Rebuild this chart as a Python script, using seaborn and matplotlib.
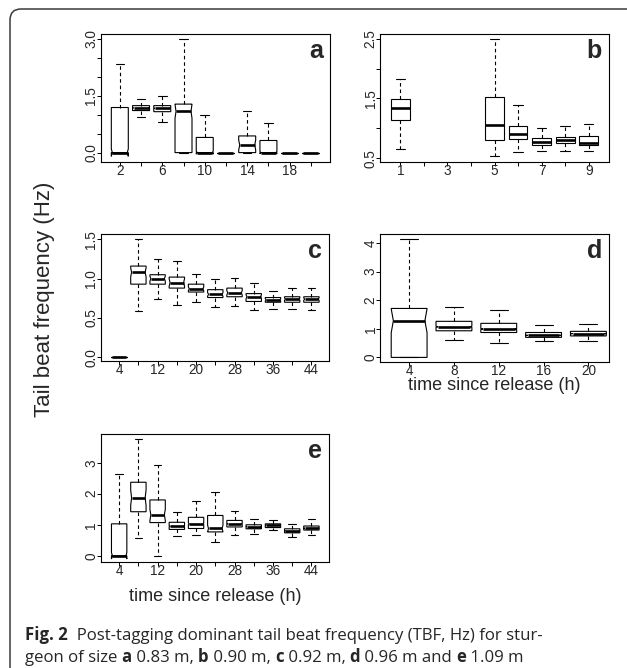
import numpy as np
import pandas as pd
import matplotlib
matplotlib.use("Agg")
import matplotlib.pyplot as plt
import seaborn as sns
from matplotlib.patches import FancyBboxPatch
from matplotlib.transforms import IdentityTransform
from matplotlib.path import Path
from matplotlib import font_manager as fm

# ---------------- data ----------------
# panel a (0.83 m)
a_times = [2, 4, 6, 8, 10, 12, 14, 16, 18, 20]
a_min = [0.00, 0.93, 0.81, 0.00, 0.00, 0.00, 0.00, 0.00, 0.00, 0.00]
a_q1 = [0.00, 1.11, 1.08, 0.00, 0.00, 0.00, 0.00, 0.00, 0.00, 0.00]
a_med = [0.00, 1.18, 1.17, 1.09, 0.00, 0.00, 0.20, 0.00, 0.00, 0.00]
a_q3 = [1.19, 1.24, 1.24, 1.28, 0.40, 0.00, 0.44, 0.32, 0.00, 0.00]
a_max = [2.34, 1.41, 1.50, 3.00, 0.99, 0.00, 1.09, 0.79, 0.00, 0.00]
a_n = [90, 100, 100, 30, 60, 10, 7, 60, 10, 10]

# panel b (0.90 m)
b_times = [1, 2, 3, 4, 5, 6, 7, 8, 9]
b_min = [0.65, np.nan, np.nan, np.nan, 0.54, 0.60, 0.62, 0.62, 0.62]
b_q1 = [1.14, np.nan, np.nan, np.nan, 0.81, 0.82, 0.72, 0.75, 0.72]
b_med = [1.34, np.nan, np.nan, np.nan, 1.05, 0.90, 0.77, 0.80, 0.76]
b_q3 = [1.49, np.nan, np.nan, np.nan, 1.53, 1.04, 0.84, 0.86, 0.87]
b_max = [1.83, np.nan, np.nan, np.nan, 2.50, 1.39, 1.01, 1.03, 1.07]
b_n = [200, 0, 0, 0, 200, 200, 200, 200, 200]

# panel c (0.92 m)
c_times = [4, 8, 12, 16, 20, 24, 28, 32, 36, 40, 44]
c_min = [0.00, 0.59, 0.74, 0.67, 0.70, 0.64, 0.65, 0.60, 0.62, 0.61, 0.60]
c_q1 = [0.00, 0.93, 0.93, 0.88, 0.83, 0.76, 0.77, 0.71, 0.70, 0.70, 0.70]
c_med = [0.00, 1.08, 1.00, 0.95, 0.87, 0.80, 0.82, 0.77, 0.73, 0.74, 0.74]
c_q3 = [0.00, 1.16, 1.05, 1.02, 0.93, 0.86, 0.88, 0.81, 0.76, 0.77, 0.77]
c_max = [0.00, 1.50, 1.25, 1.23, 1.06, 0.99, 1.01, 0.95, 0.84, 0.88, 0.88]
c_n = [10, 10, 8, 5, 10, 10, 10, 10, 10, 10, 10]

# panel d (0.96 m)
d_times = [4, 8, 12, 16, 20]
d_min = [0.00, 0.60, 0.52, 0.57, 0.56]
d_q1 = [0.00, 0.93, 0.87, 0.70, 0.75]
d_med = [1.28, 1.07, 0.99, 0.77, 0.83]
d_q3 = [1.71, 1.26, 1.19, 0.87, 0.91]
d_max = [4.13, 1.75, 1.67, 1.12, 1.15]
d_n = [10, 200, 200, 200, 200]

# panel e (1.09 m)
e_times = [4, 8, 12, 16, 20, 24, 28, 32, 36, 40, 44]
e_min = [0.00, 0.56, 0.00, 0.63, 0.66, 0.43, 0.68, 0.69, 0.83, 0.59, 0.66]
e_q1 = [0.00, 1.42, 1.07, 0.85, 0.88, 0.77, 0.93, 0.87, 0.91, 0.74, 0.83]
e_med = [0.00, 1.87, 1.32, 0.95, 1.03, 0.88, 1.03, 0.94, 0.98, 0.81, 0.89]
e_q3 = [1.03, 2.37, 1.80, 1.08, 1.24, 1.30, 1.14, 1.00, 1.03, 0.87, 0.96]
e_max = [2.62, 3.75, 2.92, 1.42, 1.75, 2.07, 1.43, 1.19, 1.15, 1.04, 1.17]
e_n = [60, 9, 10, 100, 100, 15, 100, 100, 100, 100, 100]

a_xlabels = ["2", "", "6", "", "10", "", "14", "", "18", ""]
b_xlabels = ["1", "", "3", "", "5", "", "7", "", "9"]
c_xlabels = ["4", "", "12", "", "20", "", "28", "", "36", "", "44"]
d_xlabels = ["4", "8", "12", "16", "20"]
e_xlabels = ["4", "", "12", "", "20", "", "28", "", "36", "", "44"]

a_yticks = [0.0, 0.5, 1.0, 1.5, 2.0, 2.5, 3.0]
a_ylabels = ["0.0", "", "", "1.5", "", "", "3.0"]
b_yticks = [0.5, 1.0, 1.5, 2.0, 2.5]
b_ylabels = ["0.5", "", "1.5", "", "2.5"]
c_yticks = [0.0, 0.5, 1.0, 1.5]
c_ylabels = ["0.0", "0.5", "1.0", "1.5"]
d_yticks = [0, 1, 2, 3, 4]
d_ylabels = ["0", "1", "2", "3", "4"]
e_yticks = [0, 1, 2, 3]
e_ylabels = ["0", "1", "2", "3"]

# ---------------- styling ----------------
sns.set_style("white")
plt.rcParams["font.family"] = ["Liberation Sans", "DejaVu Sans"]
W, H = 627, 668
fig = plt.figure(figsize=(W / 100, H / 100), dpi=100)

MED_LW = 1.9
NOTCH_FRAC = 0.88
TICK_FS = 9.8


def box_samples(lo, q1, med, q3, hi, k):
    # sample whose percentiles reproduce the read five-number summary
    return [lo] + [q1] * k + [med] * k + [q3] * (2 * k - 1) + [hi]


def panel(rect, times, mn, q1, md, q3, mx, ns, xlabels, yticks, ylabels,
          xlim, ylim, letter, notch=True):
    l, t, r, b = rect
    ax = fig.add_axes([l / W, 1 - b / H, (r - l) / W, (b - t) / H])
    rows = []
    for tt, v0, v1, v2, v3, v4, k in zip(times, mn, q1, md, q3, mx, ns):
        if np.isnan(v0):
            continue
        for v in box_samples(v0, v1, v2, v3, v4, k):
            rows.append((str(tt), v))
    df = pd.DataFrame(rows, columns=["time", "tbf"])
    sns.boxplot(
        data=df, x="time", y="tbf", order=[str(t_) for t_ in times], ax=ax,
        color="white", linecolor="black", linewidth=0.8, width=0.8,
        whis=(0, 100), showfliers=False, notch=notch, saturation=1,
        medianprops=dict(linewidth=MED_LW, color="black", solid_capstyle="butt"),
        whiskerprops=dict(linestyle=(0, (3.2, 2.6)), linewidth=0.8),
        capprops=dict(linewidth=0.8),
    )
    # shallow R-style notches
    if notch:
        for p in ax.patches:
            path = p.get_path()
            v = path.vertices.copy()
            if len(v) >= 11:
                pos = (v[0, 0] + v[1, 0]) / 2
                half = (v[1, 0] - v[0, 0]) / 2
                v[3, 0] = pos + NOTCH_FRAC * half
                v[8, 0] = pos - NOTCH_FRAC * half
                p._path = Path(v, path.codes)
        for ln in ax.lines:
            if abs(ln.get_linewidth() - MED_LW) < 1e-6:
                xd = np.asarray(ln.get_xdata(), dtype=float)
                pos = xd.mean()
                half = 0.4
                ln.set_xdata([pos - NOTCH_FRAC * half, pos + NOTCH_FRAC * half])
    ax.set_xticks(range(len(times)))
    ax.set_xticklabels(xlabels)
    ax.set_yticks(yticks)
    ax.set_yticklabels(ylabels, rotation=90, va="center")
    ax.set_xlim(*xlim)
    ax.set_ylim(*ylim)
    ax.set_xlabel("")
    ax.set_ylabel("")
    for s in ax.spines.values():
        s.set_color("black")
        s.set_linewidth(0.8)
        s.set_visible(True)
    ax.tick_params(axis="both", direction="out", length=2.9, width=0.7,
                   color="black", labelsize=TICK_FS, pad=-1.2, bottom=True, left=True)
    ax.text(1 - 7 / (r - l), 1 - 23.5 / (b - t), letter, transform=ax.transAxes,
            ha="right", va="baseline", fontsize=18, fontweight="bold")
    return ax


panel((100.7, 34, 330, 161.7), a_times, a_min, a_q1, a_med, a_q3, a_max, a_n,
      a_xlabels, a_yticks, a_ylabels, (-0.9, 9.9), (-0.24, 3.13), "a")
panel((380, 34, 609, 161.7), b_times, b_min, b_q1, b_med, b_q3, b_max, b_n,
      b_xlabels, b_yticks, b_ylabels, (-0.86, 8.86), (0.44, 2.58), "b", notch=False)
panel((100.7, 234.3, 329.3, 361), c_times, c_min, c_q1, c_med, c_q3, c_max, c_n,
      c_xlabels, c_yticks, c_ylabels, (-0.96, 10.93), (-0.047, 1.564), "c")
panel((380, 234.3, 609, 361.7), d_times, d_min, d_q1, d_med, d_q3, d_max, d_n,
      d_xlabels, d_yticks, d_ylabels, (-0.65, 4.46), (-0.15, 4.30), "d")
panel((100.7, 434, 329.3, 561.7), e_times, e_min, e_q1, e_med, e_q3, e_max, e_n,
      e_xlabels, e_yticks, e_ylabels, (-0.96, 10.93), (-0.19, 3.925), "e")

fig.text(45 / W, 1 - 299 / H, "Tail beat frequency (Hz)", rotation=90,
         ha="center", va="center", fontsize=16)
fig.text(494.5 / W, 1 - 390 / H, "time since release (h)", ha="center",
         va="baseline", fontsize=13)
fig.text(215 / W, 1 - 601 / H, "time since release (h)", ha="center",
         va="baseline", fontsize=13)

# outer rounded frame (cut by the right and bottom image edges)
frame = FancyBboxPatch((10, -40), W + 40, H - 9 + 40,
                       boxstyle="round,pad=0,rounding_size=11",
                       transform=IdentityTransform(), fill=False,
                       edgecolor="#3a3a3a", linewidth=1.1)
fig.add_artist(frame)

# caption
names = {f.name for f in fm.fontManager.ttflist}
cap_family = "Liberation Sans Narrow" if "Liberation Sans Narrow" in names else "Open Sans"
cap_size = 12.1
fig.canvas.draw()
rend = fig.canvas.get_renderer()


def piece_width(s, weight):
    t1 = fig.text(0, 0, "|" + s + "|", fontsize=cap_size, family=cap_family,
                  fontweight=weight)
    t2 = fig.text(0, 0, "||", fontsize=cap_size, family=cap_family,
                  fontweight=weight)
    w = t1.get_window_extent(rend).width - t2.get_window_extent(rend).width
    t1.remove()
    t2.remove()
    return w


def caption_line(pieces, x0, ybase):
    x = x0
    for s, weight in pieces:
        fig.text(x / W, 1 - ybase / H, s, fontsize=cap_size, family=cap_family,
                 fontweight=weight, ha="left", va="baseline")
        x += piece_width(s, weight)


caption_line([("Fig. 2", "bold"),
              ("  Post-tagging dominant tail beat frequency (TBF, Hz) for stur-", "normal")],
             25, 640)
caption_line([("geon of size ", "normal"), ("a", "bold"), (" 0.83 m, ", "normal"),
              ("b", "bold"), (" 0.90 m, ", "normal"), ("c", "bold"),
              (" 0.92 m, ", "normal"), ("d", "bold"), (" 0.96 m and ", "normal"),
              ("e", "bold"), (" 1.09 m", "normal")],
             25, 662)

fig.savefig("out.png", dpi=100)
